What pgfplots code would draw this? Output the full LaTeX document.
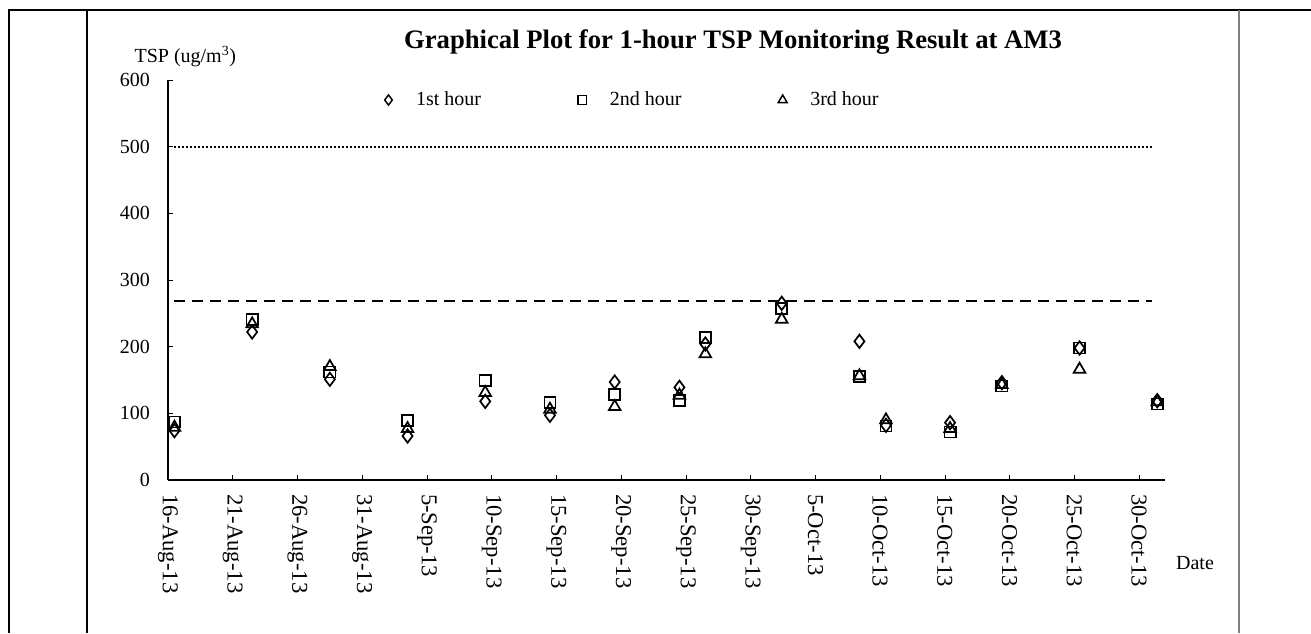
\documentclass[border=0pt]{standalone}
\usepackage{pgfplots}
\pgfplotsset{compat=1.18}
\usepackage{pgfplotstable}
\usepackage{fontspec}
\setmainfont{Liberation Serif}

\pgfplotstableread{
x d s t
0.5 74 87 79
6.5 222 241 234
12.5 151 162 170
18.5 66 89 77
24.5 118 149 131
29.5 97 116 106
34.5 147 128 110
39.5 139 119 127
41.5 204 214 189
47.4 265 257 241
53.4 208 155 156
55.45 82 81 90
60.4 86 72 77
64.4 146 141 143
70.4 198 198 166
76.4 119 114 117
}\data

\pgfplotstableread{
x y
0.5 269
76 269
}\action

\pgfplotstableread{
x y
0.5 500
76 500
}\limit

\begin{document}
\begin{tikzpicture}
\useasboundingbox (0,0) rectangle (983.25pt,474.75pt);
% table frame
\draw[line width=2pt] (6.75pt,0) -- (6.75pt,467.25pt) -- (983.25pt,467.25pt);
\draw[line width=0.8pt] (65.25pt,0) -- (65.25pt,467.25pt);
\draw[line width=1.4pt, gray] (929.25pt,0) -- (929.25pt,467.25pt);
\begin{axis}[
  at={(126pt,114.75pt)}, anchor=south west,
  scale only axis, width=747.75pt, height=300pt,
  xmin=0, xmax=77, ymin=0, ymax=600,
  axis x line=bottom, axis y line=left,
  axis line style={-, line width=0.9pt},
  tick align=inside, major tick length=4pt,
  tick style={black, line width=0.5pt},
  ytick={0,100,...,600},
  xtick={0,5,...,75},
  xticklabels={16-Aug-13,21-Aug-13,26-Aug-13,31-Aug-13,5-Sep-13,10-Sep-13,15-Sep-13,20-Sep-13,25-Sep-13,30-Sep-13,5-Oct-13,10-Oct-13,15-Oct-13,20-Oct-13,25-Oct-13,30-Oct-13},
  /pgf/number format/assume math mode=true,
  yticklabel style={font=\fontsize{15pt}{17pt}\selectfont, anchor=east, xshift=-10pt},
  xticklabel style={font=\fontsize{17pt}{19pt}\selectfont, yshift=-7pt, rotate=-90, anchor=west},
  legend columns=3,
  legend style={draw=none, fill=none, at={(0.209,0.95)}, anchor=west,
    font=\fontsize{15pt}{17pt}\selectfont,
    /tikz/every even column/.append style={column sep=68pt}},
  legend image code/.code={\path (0,0) (0.85cm,0); \draw[#1] plot coordinates {(0.2cm,0cm)};},
  clip=false,
]
\addplot[forget plot, only marks, mark=diamond, mark size=5pt, mark options={line width=1.3pt, fill=white}] table[x=x,y=d]{\data};
\addplot[forget plot, only marks, mark=square, mark size=4.2pt, mark options={line width=1.3pt}] table[x=x,y=s]{\data};
\addplot[forget plot, only marks, mark=triangle, mark size=5pt, mark options={line width=1.3pt}] table[x=x,y=t]{\data};
\addlegendimage{only marks, mark=diamond, mark size=3.8pt, mark options={line width=1.1pt}}
\addlegendentry{1st hour}
\addlegendimage{only marks, mark=square, mark size=3.2pt, mark options={line width=1.1pt}}
\addlegendentry{2nd hour}
\addlegendimage{only marks, mark=triangle, mark size=3.8pt, mark options={line width=1.1pt}}
\addlegendentry{3rd hour}
\addplot[no marks, line width=1.5pt, dash pattern=on 8pt off 5.5pt, forget plot] table[x=x,y=y]{\action};
\addplot[no marks, line width=1.3pt, dash pattern=on 1.2pt off 1.8pt, forget plot] table[x=x,y=y]{\limit};
\end{axis}
\node[font=\bfseries\fontsize{20pt}{23pt}\selectfont] at (549.75pt,443.25pt) {Graphical Plot for 1-hour TSP Monitoring Result at AM3};
\node[font=\fontsize{15pt}{17pt}\selectfont] at (139pt,432pt) {TSP (ug/m\textsuperscript{3})};
\node[font=\fontsize{15pt}{17pt}\selectfont] at (896.25pt,52.5pt) {Date};
\end{tikzpicture}
\end{document}
